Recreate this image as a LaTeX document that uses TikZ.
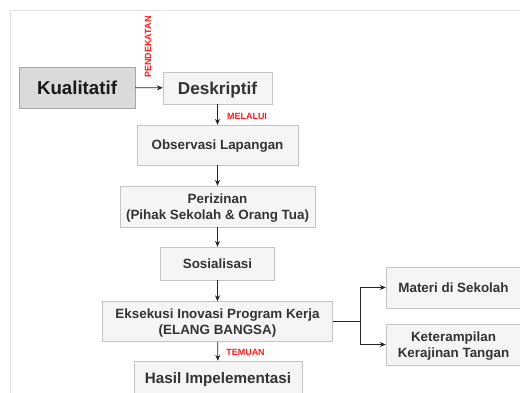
\documentclass[tikz,border=0pt]{standalone}
\usepackage{fontspec}
\setmainfont{Liberation Sans}
\usetikzlibrary{arrows.meta,positioning}
\definecolor{isikotak}{HTML}{F5F5F5}
\definecolor{isiutama}{HTML}{DADADA}
\definecolor{tepikotak}{HTML}{C4C4C4}
\definecolor{teks}{HTML}{333333}
\definecolor{merah}{HTML}{FF1A1A}
\definecolor{bingkai}{HTML}{E3E3E3}
\begin{document}
\begin{tikzpicture}[x=1pt,y=-1pt]

\tikzset{kotak/.style={draw=tepikotak, fill=isikotak, text=teks, align=center, inner sep=0pt,
           text depth=0pt, font=\bfseries\fontsize{13.4}{16}\selectfont},
         merah label/.style={text=merah, inner sep=0pt, font=\bfseries\fontsize{9}{10}\selectfont},
         panah/.style={draw=black!85, line width=0.7pt, -{Stealth[length=6pt,width=5pt]}}}

\useasboundingbox (0,0) rectangle (520,392);
\fill[white] (0,0) rectangle (520,392);
\draw[bingkai] (10,10) rectangle (540,410);

\node[kotak, fill=isiutama, draw=black!35, text=black!90, minimum width=116pt, minimum height=41pt,
      font=\bfseries\fontsize{18.7}{22}\selectfont] (kualitatif) at (77,87.5) {Kualitatif};
\node[kotak, minimum width=109pt, minimum height=32pt, font=\bfseries\fontsize{17.2}{20}\selectfont]
      (deskriptif) at (217.5,88) {Deskriptif};
\node[kotak, minimum width=161pt, minimum height=40pt] (observasi) at (217.5,145) {Observasi Lapangan};
\node[kotak, minimum width=195pt, minimum height=41pt] (perizinan) at (217.5,206.5)
      {Perizinan\\(Pihak Sekolah \& Orang Tua)};
\node[kotak, minimum width=114pt, minimum height=33pt] (sosialisasi) at (217.5,263.5) {Sosialisasi};
\node[kotak, minimum width=230pt, minimum height=40pt] (eksekusi) at (217.5,321.5)
      {Eksekusi Inovasi Program Kerja\\(ELANG BANGSA)};
\node[kotak, minimum width=168pt, minimum height=34pt, font=\bfseries\fontsize{15.2}{18}\selectfont]
      (hasil) at (218,378) {Hasil Impelementasi};
\node[kotak, minimum width=135pt, minimum height=41pt] (materi) at (453.5,287.5) {Materi di Sekolah};
\node[kotak, minimum width=135pt, minimum height=41pt] (kerajinan) at (453.5,344.5)
      {Keterampilan\\Kerajinan Tangan};

% label merah
\node[merah label, rotate=90] (pendekatan) at (148,47) {PENDEKATAN};
\node[merah label] (melalui) at (247,116) {MELALUI};
\node[merah label] (temuan) at (245.5,352) {TEMUAN};

\draw[panah] (kualitatif) -- (deskriptif);
\draw[panah] (deskriptif) -- (observasi);
\draw[panah] (observasi) -- (perizinan);
\draw[panah] (perizinan) -- (sosialisasi);
\draw[panah] (sosialisasi) -- (eksekusi);
\draw[panah] (eksekusi) -- (hasil);

\coordinate (cabang) at (360,321.5);
\draw[draw=black!85, line width=0.7pt] (eksekusi.east) -- (cabang);
\draw[panah] (cabang) |- (materi.west);
\draw[panah] (cabang) |- (kerajinan.west);

\end{tikzpicture}
\end{document}
